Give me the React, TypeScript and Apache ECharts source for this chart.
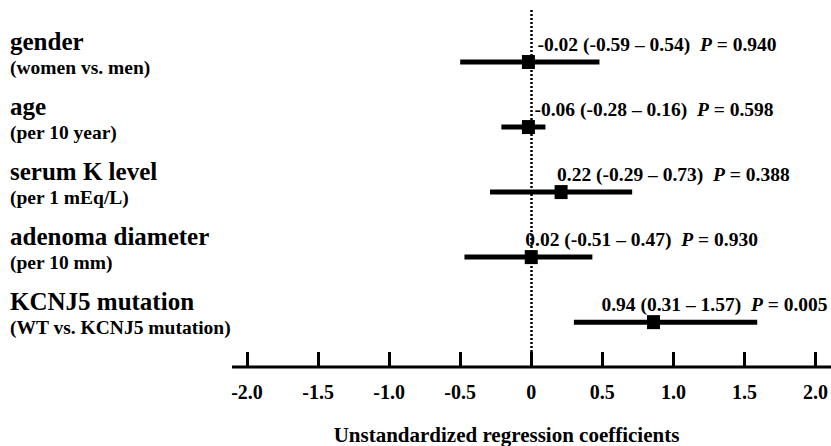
import React, { useEffect, useRef } from "react";
import * as echarts from "echarts";

// ---- data ----
const categories = ["gender", "age", "serum K level", "adenoma diameter", "KCNJ5 mutation"];
const subLabels = ["(women vs. men)", "(per 10 year)", "(per 1 mEq/L)", "(per 10 mm)", "(WT vs. KCNJ5 mutation)"];
const estimates = [-0.02, -0.02, 0.21, 0.0, 0.86];
const lowerCI = [-0.5, -0.21, -0.29, -0.47, 0.3];
const upperCI = [0.48, 0.1, 0.71, 0.43, 1.59];
const coefTexts = [
  "-0.02 (-0.59 – 0.54)",
  "-0.06 (-0.28 – 0.16)",
  "0.22 (-0.29 – 0.73)",
  "0.02 (-0.51 – 0.47)",
  "0.94 (0.31 – 1.57)",
];
const pValues = ["0.940", "0.598", "0.388", "0.930", "0.005"];
const xTickValues = [-2, -1.5, -1, -0.5, 0, 0.5, 1, 1.5, 2];
const xTickLabels = ["-2.0", "-1.5", "-1.0", "-0.5", "0", "0.5", "1.0", "1.5", "2.0"];
const xAxisTitle = "Unstandardized regression coefficients";

// ---- layout / style ----
const FONT = "Liberation Serif";
const annotDx = [9, 6, -4, -6, -52];

export default function App() {
  const ref = useRef<HTMLDivElement>(null);
  useEffect(() => {
    const chart = echarts.init(ref.current!, null, { renderer: "svg" });
    const rows = categories.map((_, i) => [i, lowerCI[i], upperCI[i], estimates[i]]);

    const ciRender = (params: any, api: any) => {
      const idx = api.value(0);
      const p1 = api.coord([api.value(1), idx]);
      const p2 = api.coord([api.value(2), idx]);
      const pc = api.coord([api.value(3), idx]);
      return {
        type: "group",
        children: [
          {
            type: "line",
            shape: { x1: p1[0], y1: p1[1], x2: p2[0], y2: p2[1] },
            style: { stroke: "#000", lineWidth: 5 },
          },
          {
            type: "rect",
            shape: { x: pc[0] - 6.5, y: pc[1] - 7, width: 13, height: 14 },
            style: { fill: "#000" },
          },
        ],
      };
    };

    const annotRender = (params: any, api: any) => {
      const idx = api.value(0);
      const pc = api.coord([api.value(3), idx]);
      const i = params.dataIndex;
      return {
        type: "text",
        x: pc[0] + annotDx[i],
        y: pc[1] - 18,
        style: {
          text: `${coefTexts[i]}  {p|P} = ${pValues[i]}`,
          rich: {
            p: { fontStyle: "italic", fontWeight: "bold", fontSize: 19.5, fontFamily: FONT, fill: "#000" },
          },
          fontSize: 19.5,
          fontWeight: "bold",
          fontFamily: FONT,
          fill: "#000",
          align: "left",
          verticalAlign: "middle",
        },
      };
    };

    const labelRender = (params: any, api: any) => {
      const idx = api.value(0);
      const pc = api.coord([0, idx]);
      const i = params.dataIndex;
      return {
        type: "group",
        children: [
          {
            type: "text",
            x: 10,
            y: pc[1] - 21,
            style: {
              text: categories[i],
              fontSize: 25,
              fontWeight: "bold",
              fontFamily: FONT,
              fill: "#000",
              align: "left",
              verticalAlign: "middle",
            },
          },
          {
            type: "text",
            x: 10,
            y: pc[1] + 5,
            style: {
              text: subLabels[i],
              fontSize: 19.5,
              fontWeight: "bold",
              fontFamily: FONT,
              fill: "#000",
              align: "left",
              verticalAlign: "middle",
            },
          },
        ],
      };
    };

    chart.setOption({
      animation: false,
      backgroundColor: "#fff",
      textStyle: { fontFamily: FONT },
      grid: { left: 247, right: 13, top: 10, bottom: 79 },
      xAxis: {
        type: "value",
        min: xTickValues[0],
        max: xTickValues[xTickValues.length - 1],
        interval: 0.5,
        axisLine: { show: false, onZero: false },
        splitLine: { show: false },
        axisTick: { show: true, inside: true, length: 15, lineStyle: { color: "#000", width: 3 } },
        axisLabel: {
          show: true,
          margin: 15,
          color: "#000",
          fontSize: 20,
          fontWeight: "bold",
          fontFamily: FONT,
          formatter: (v: number) => {
            const k = xTickValues.findIndex((t) => Math.abs(t - v) < 1e-9);
            return k >= 0 ? xTickLabels[k] : "";
          },
        },
      },
      yAxis: { type: "value", inverse: true, min: -0.8, max: 4.69, show: false },
      graphic: [
        {
          type: "line",
          shape: { x1: 232, y1: 367, x2: 831, y2: 367 },
          style: { stroke: "#000", lineWidth: 3 },
        },
        {
          type: "text",
          x: 506.5,
          y: 434.5,
          style: {
            text: xAxisTitle,
            fontSize: 21,
            fontWeight: "bold",
            fontFamily: FONT,
            fill: "#000",
            align: "center",
            verticalAlign: "middle",
          },
        },
      ],
      series: [
        {
          type: "custom",
          renderItem: ciRender,
          data: rows,
          encode: { x: [1, 2, 3], y: 0 },
          clip: false,
          markLine: {
            silent: true,
            symbol: "none",
            label: { show: false },
            lineStyle: { type: [2, 2], color: "#000", width: 2.5 },
            data: [{ xAxis: 0 }],
          },
        },
        {
          type: "custom",
          renderItem: annotRender,
          data: rows,
          encode: { x: [1, 2, 3], y: 0 },
          clip: false,
        },
        {
          type: "custom",
          renderItem: labelRender,
          data: rows,
          encode: { x: [1, 2, 3], y: 0 },
          clip: false,
        },
      ],
    });
    return () => chart.dispose();
  }, []);
  return (
    <div
      ref={ref}
      style={{ position: "fixed", left: 0, top: 0, width: 831, height: 446, background: "#fff" }}
    />
  );
}
